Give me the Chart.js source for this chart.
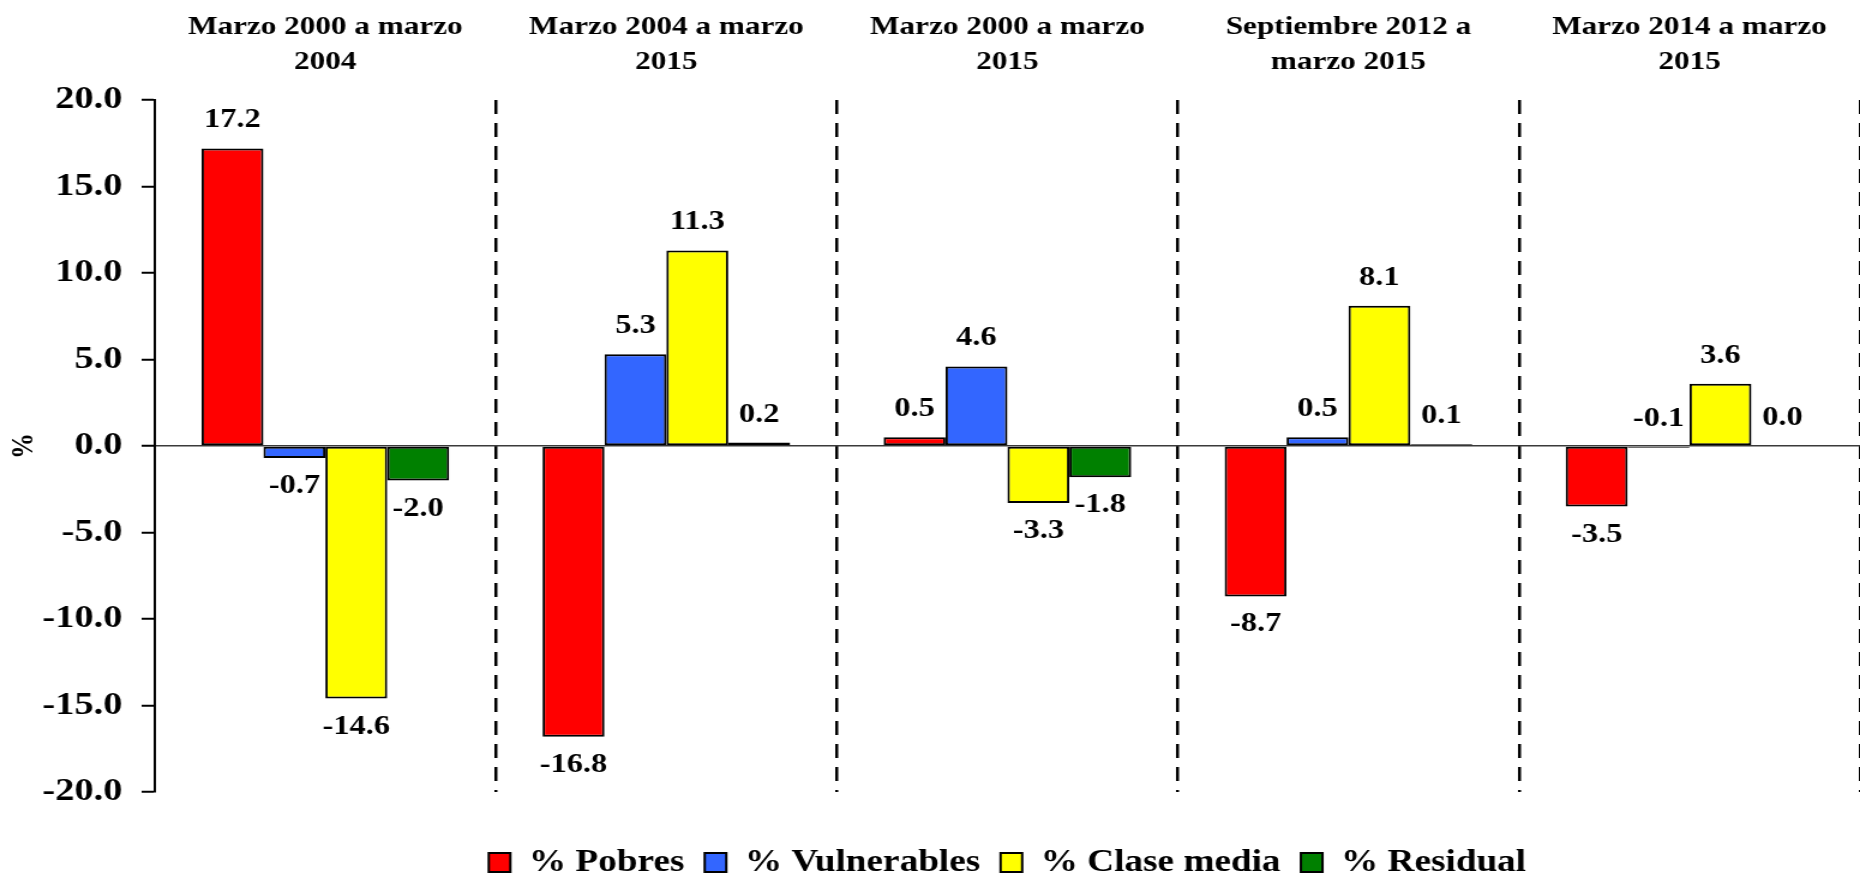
<!DOCTYPE html>
<html>
<head>
<meta charset="utf-8">
<title>Cambio por clase social</title>
<script src="https://cdn.jsdelivr.net/npm/chart.js@4/dist/chart.umd.min.js"></script>
<style>
  html, body { margin: 0; padding: 0; background: #fff; overflow: hidden; }
  #wrap { width: 1860px; height: 878px; overflow: hidden; }
  /* the reference is drawn a little wide, so the canvas is stretched sideways */
  #chart { transform: scaleX(1.2); transform-origin: 0 0; }
</style>
</head>
<body>
<div id="wrap"><canvas id="chart" width="1550" height="878"></canvas></div>
<script>
const periods = [
  ['Marzo 2000 a marzo', '2004'],
  ['Marzo 2004 a marzo', '2015'],
  ['Marzo 2000 a marzo', '2015'],
  ['Septiembre 2012 a', 'marzo 2015'],
  ['Marzo 2014 a marzo', '2015']
]
const seriesNames = ['% Pobres', '% Vulnerables', '% Clase media', '% Residual']
const pobres = [17.2, -16.8, 0.5, -8.7, -3.5]
const vulnerables = [-0.7, 5.3, 4.6, 0.5, -0.1]
const claseMedia = [-14.6, 11.3, -3.3, 8.1, 3.6]
const residual = [-2.0, 0.2, -1.8, 0.1, 0.0]
const yTicks = [-20, -15, -10, -5, 0, 5, 10, 15, 20]

const serif = '"Liberation Serif", "Times New Roman", Times, serif'
const colors = ['#ff0000', '#3366ff', '#ffff00', '#008000']

const valueLabels = {
  id: 'valueLabels',
  afterDatasetsDraw(chart) {
    const { ctx } = chart
    ctx.save()
    ctx.font = `bold 27px ${serif}`
    ctx.fillStyle = '#000'
    ctx.textAlign = 'center'
    ctx.textBaseline = 'middle'
    chart.data.datasets.forEach((ds, i) => {
      chart.getDatasetMeta(i).data.forEach((bar, j) => {
        const v = ds.data[j]
        const top = Math.min(bar.y, bar.base)
        const bottom = Math.max(bar.y, bar.base)
        // tiny negatives keep their label above the axis, as in the original
        const y = v > -0.5 ? top - 28 : bottom + 28
        ctx.fillText(v.toFixed(1), bar.x, y)
      })
    })
    ctx.restore()
  }
}

// centre the legend under the plot, not under the whole canvas
const legendOverPlot = {
  id: 'legendOverPlot',
  afterLayout(chart) {
    const lg = chart.legend
    lg.left = chart.chartArea.left
    lg.right = chart.chartArea.right
    lg.width = lg.right - lg.left
  }
}

const dataSets = [pobres, vulnerables, claseMedia, residual].map((values, i) => ({
  label: seriesNames[i],
  data: values,
  backgroundColor: colors[i],
  borderColor: '#000',
  borderWidth: 2,
  borderSkipped: false,
  categoryPercentage: 0.726,
  barPercentage: 1
}))

new Chart(document.getElementById('chart'), {
  type: 'bar',
  data: { labels: periods, datasets: dataSets },
  plugins: [valueLabels, legendOverPlot],
  options: {
    responsive: false,
    animation: false,
    events: [],
    layout: { padding: { top: 0, left: 0, right: 0, bottom: -10 } },
    plugins: {
      tooltip: { enabled: false },
      legend: {
        position: 'bottom',
        title: { display: true, text: '', font: { size: 10, lineHeight: 1 }, padding: { top: 0, bottom: 28 } },
        labels: {
          color: '#000',
          boxWidth: 18,
          boxHeight: 19,
          padding: 17,
          font: { family: serif, size: 31, weight: 'bold' }
        }
      }
    },
    scales: {
      x: {
        position: 'top',
        afterFit: axis => { axis.height = 100 },
        border: { display: false, dash: [14, 9] },
        grid: {
          color: c => c.index === 0 ? 'rgba(0,0,0,0)' : '#000',
          lineWidth: 2.5,
          drawTicks: false
        },
        ticks: {
          color: '#000',
          padding: 20,
          maxRotation: 0,
          autoSkip: false,
          font: { family: serif, size: 26, weight: 'bold', lineHeight: 1.35 }
        }
      },
      y: {
        min: -20,
        max: 20,
        afterBuildTicks: axis => { axis.ticks = yTicks.map(value => ({ value })) },
        afterFit: axis => { axis.width = 129 },
        border: { display: true, color: '#000', width: 2 },
        grid: {
          color: c => c.tick && c.tick.value === 0 ? '#3a3a3a' : 'rgba(0,0,0,0)',
          lineWidth: 1.5,
          tickLength: 11,
          tickColor: '#000',
          tickWidth: 2
        },
        ticks: {
          color: '#000',
          padding: 16,
          font: { family: serif, size: 32, weight: 'bold' },
          callback: v => v.toFixed(1)
        },
        title: {
          display: true,
          text: '%',
          color: '#000',
          padding: { top: 5, bottom: 0 },
          font: { family: serif, size: 26, weight: 'bold' }
        }
      }
    }
  }
})
</script>
</body>
</html>
